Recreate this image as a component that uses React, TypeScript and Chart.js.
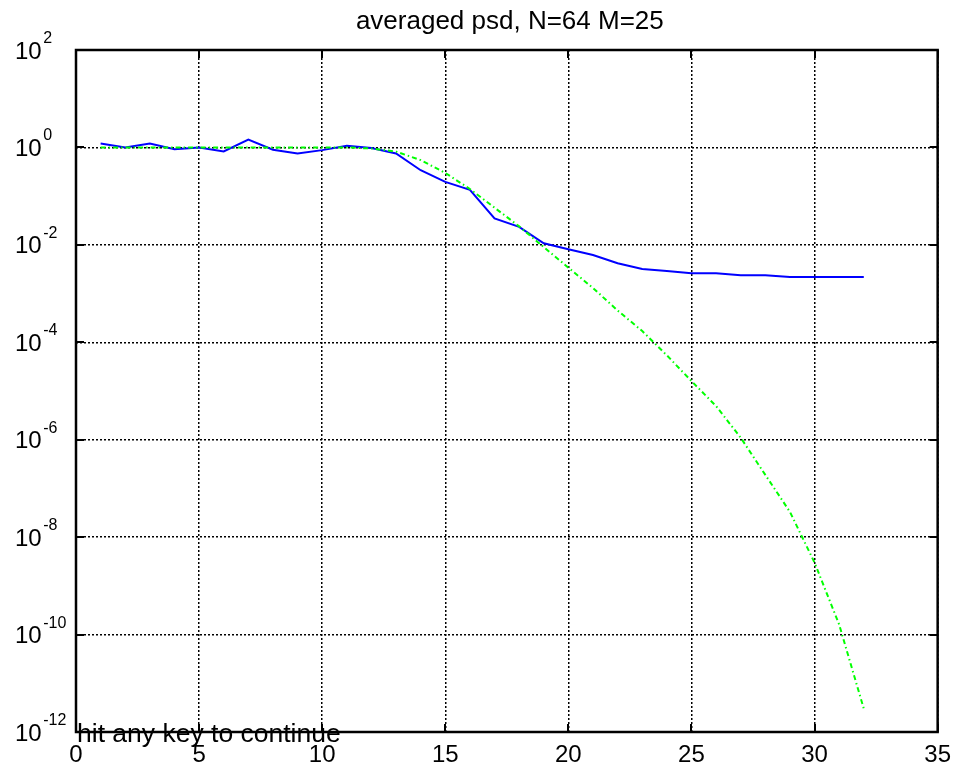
import React, { useEffect, useRef } from "react";
import { Chart, registerables } from "chart.js";

Chart.register(...registerables);

const titleText = "averaged psd, N=64 M=25";
const footerText = "hit any key to continue";

const frequencyBins = [
  1, 2, 3, 4, 5, 6, 7, 8, 9, 10, 11, 12, 13, 14, 15, 16,
  17, 18, 19, 20, 21, 22, 23, 24, 25, 26, 27, 28, 29, 30, 31, 32,
];

const averagedPsd = [
  1.2, 1.0, 1.2, 0.92, 1.0, 0.83, 1.45, 0.9, 0.75, 0.88, 1.08, 0.97, 0.75, 0.34, 0.196, 0.135,
  0.035, 0.0234, 0.0108, 0.0081, 0.0062, 0.0042, 0.0032, 0.0029, 0.0026, 0.0026, 0.00237, 0.00237,
  0.00219, 0.00219, 0.00219, 0.00219,
];

const truePsd = [
  1.0, 1.0, 1.0, 1.0, 1.0, 1.0, 1.0, 1.0, 1.0, 1.0, 1.0, 0.95, 0.82, 0.55, 0.3, 0.14,
  0.058, 0.024, 0.009, 0.0034, 0.0013, 4.5e-4, 1.7e-4, 5.4e-5, 1.6e-5, 4.9e-6, 1.1e-6, 1.9e-7,
  3.3e-8, 3e-9, 1.6e-10, 3e-12,
];

const xTickValues = [0, 5, 10, 15, 20, 25, 30, 35];
const yTickExponents = [2, 0, -2, -4, -6, -8, -10, -12];

const FONT = "'Liberation Sans', Arial, Helvetica, sans-serif";

const overlayPlugin = {
  id: "matlabOverlay",
  afterDraw(chart: any) {
    const { ctx, chartArea } = chart;
    const { left, right, top, bottom } = chartArea;
    const xs = chart.scales.x;
    const ys = chart.scales.y;
    ctx.save();

    // inward tick marks
    ctx.strokeStyle = "#000";
    ctx.lineWidth = 2;
    ctx.setLineDash([]);
    const tl = 8;
    xTickValues.forEach((v) => {
      const px = Math.round(xs.getPixelForValue(v));
      ctx.beginPath();
      ctx.moveTo(px, bottom);
      ctx.lineTo(px, bottom - tl);
      ctx.moveTo(px, top);
      ctx.lineTo(px, top + tl);
      ctx.stroke();
    });
    yTickExponents.forEach((e) => {
      const py = Math.round(ys.getPixelForValue(Math.pow(10, e)));
      ctx.beginPath();
      ctx.moveTo(left, py);
      ctx.lineTo(left + tl, py);
      ctx.moveTo(right, py);
      ctx.lineTo(right - tl, py);
      ctx.stroke();
    });

    // frame
    ctx.lineWidth = 2.5;
    ctx.strokeRect(left, top, right - left, bottom - top);

    // y tick labels with superscript exponents
    ctx.fillStyle = "#000";
    ctx.textAlign = "left";
    ctx.textBaseline = "alphabetic";
    yTickExponents.forEach((e) => {
      const py = ys.getPixelForValue(Math.pow(10, e));
      ctx.font = `24px ${FONT}`;
      ctx.fillText("10", 15, py + 8.5);
      const w = ctx.measureText("10").width;
      ctx.font = `16px ${FONT}`;
      ctx.fillText(String(e), 15 + w + 1.5, py - 7);
    });

    // title
    ctx.font = `26px ${FONT}`;
    ctx.textAlign = "center";
    ctx.fillText(titleText, (left + right) / 2 + 3, 28.5);

    // footer message
    ctx.textAlign = "left";
    ctx.font = `26.5px ${FONT}`;
    ctx.fillText(footerText, 77, 742);

    ctx.restore();
  },
};

export default function App() {
  const canvasRef = useRef<HTMLCanvasElement | null>(null);

  useEffect(() => {
    const canvas = canvasRef.current;
    if (!canvas) return;
    const chart = new Chart(canvas, {
      type: "line",
      data: {
        datasets: [
          {
            label: "averaged psd",
            data: frequencyBins.map((x, i) => ({ x, y: averagedPsd[i] })),
            borderColor: "#0000ff",
            borderWidth: 2,
            pointRadius: 0,
            tension: 0,
            fill: false,
            order: 1,
          },
          {
            label: "true psd",
            data: frequencyBins.map((x, i) => ({ x, y: truePsd[i] })),
            borderColor: "#00ff00",
            borderWidth: 2,
            borderDash: [5, 3, 1.5, 3],
            pointRadius: 0,
            tension: 0,
            fill: false,
            order: 0,
          },
        ],
      },
      plugins: [overlayPlugin],
      options: {
        animation: false,
        responsive: false,
        devicePixelRatio: 1,
        layout: { padding: { top: 50, right: 18, left: 0, bottom: 0 } },
        plugins: {
          legend: { display: false },
          title: { display: false },
          tooltip: { enabled: false },
        },
        scales: {
          x: {
            type: "linear",
            min: 0,
            max: 35,
            afterBuildTicks: (scale: any) => {
              scale.ticks = xTickValues.map((v) => ({ value: v }));
            },
            afterFit: (scale: any) => {
              scale.height = 38;
            },
            grid: {
              display: true,
              color: "#000",
              lineWidth: 1.5,
              drawTicks: false,
            },
            border: { display: false, dash: [2, 2] },
            ticks: {
              color: "#000",
              font: { family: FONT, size: 24 },
              padding: 9,
              maxRotation: 0,
              autoSkip: false,
              callback: (v: any) => String(v),
            },
          },
          y: {
            type: "logarithmic",
            min: 1e-12,
            max: 1e2,
            afterBuildTicks: (scale: any) => {
              scale.ticks = yTickExponents.map((e) => ({ value: Math.pow(10, e) }));
            },
            afterFit: (scale: any) => {
              scale.width = 76;
            },
            grid: {
              display: true,
              color: "#000",
              lineWidth: 1.5,
              drawTicks: false,
            },
            border: { display: false, dash: [2, 2] },
            ticks: { display: false },
          },
        },
      },
    });
    return () => chart.destroy();
  }, []);

  return (
    <div style={{ position: "absolute", left: 0, top: 0, width: 960, height: 770, background: "#fff" }}>
      <canvas ref={canvasRef} width={960} height={770} style={{ width: 960, height: 770 }} />
    </div>
  );
}
